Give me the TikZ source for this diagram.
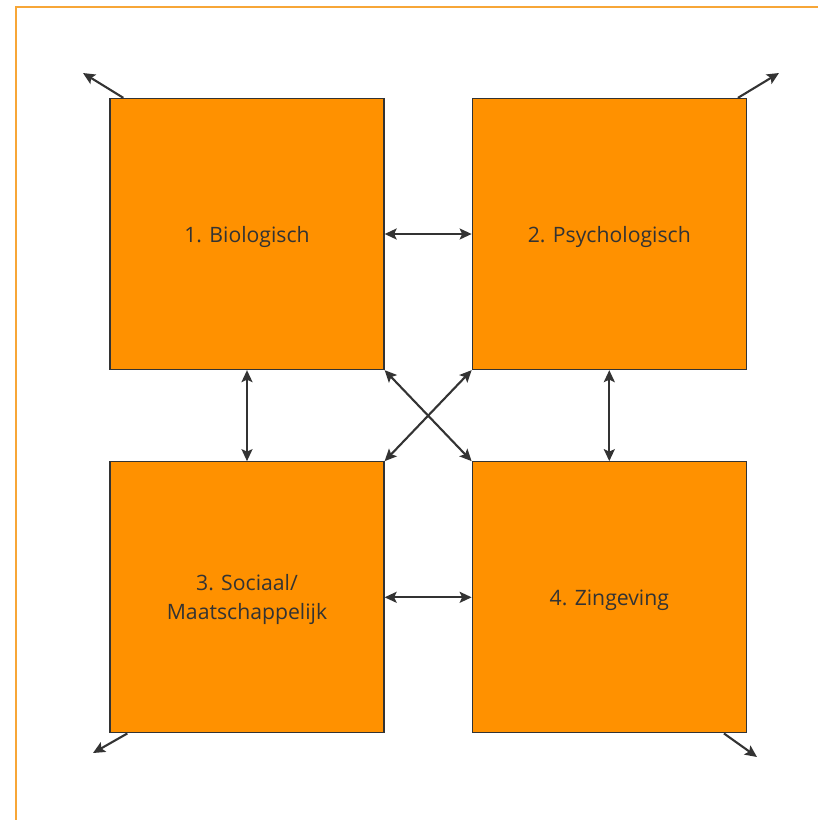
\documentclass[tikz,border=0pt]{standalone}
\usepackage{fontspec}
\setmainfont{Open Sans}
\usetikzlibrary{positioning}
\usetikzlibrary{arrows.meta}
\definecolor{boxorange}{HTML}{FF9100}
\definecolor{framebar}{HTML}{F7A637}
\definecolor{inkgray}{HTML}{333333}
\tikzset{node distance=87pt, % gap between the boxes
         factor/.style={ % the four domains
           draw=inkgray,
           line width=1.3pt,
           fill=boxorange,
           text=inkgray,
           font=\fontsize{21.2}{29}\selectfont,
           align=center,
           text depth=0pt,
           minimum width=274pt,
           minimum height=271pt,
           inner sep=0pt},
         link/.style={ % arrows between the domains
           draw=inkgray,
           line width=2.1pt,
           {Stealth[length=12pt,width=11pt,inset=2.5pt]}-{Stealth[length=12pt,width=11pt,inset=2.5pt]}},
         outward/.style={ % arrows leaving the corners
           draw=inkgray,
           line width=2.1pt,
           -{Stealth[length=12pt,width=11pt,inset=2.5pt]}}}

\begin{document}
\begin{tikzpicture}[x=1pt,y=-1pt]
\useasboundingbox (0,0) rectangle (818,820);
\draw[framebar, line width=1.5pt] (16,825) -- (16,7) -- (825,7);

\node[factor] (bio) at (247,234) {1. Biologisch};
\node[factor, right=of bio] (psy) {2. Psychologisch};
\node[factor, below=91pt of bio] (soc) {3. Sociaal/\\Maatschappelijk};
\node[factor, below=91pt of psy] (zin) {4. Zingeving};

\coordinate (tl) at (83,73);
\coordinate (tr) at (779,73);
\coordinate (bl) at (93,753);
\coordinate (br) at (757,757);

\draw[link] (bio) -- (psy);
\draw[link] (soc) -- (zin);
\draw[link] (bio) -- (soc);
\draw[link] (psy) -- (zin);
\draw[link] (bio.south east) -- (zin.north west);
\draw[link] (psy.south west) -- (soc.north east);

\draw[outward] ([xshift=14pt]bio.north west) -- (tl);
\draw[outward] ([xshift=-9pt]psy.north east) -- (tr);
\draw[outward] ([xshift=18pt]soc.south west) -- (bl);
\draw[outward] ([xshift=-23pt]zin.south east) -- (br);
\end{tikzpicture}
\end{document}
